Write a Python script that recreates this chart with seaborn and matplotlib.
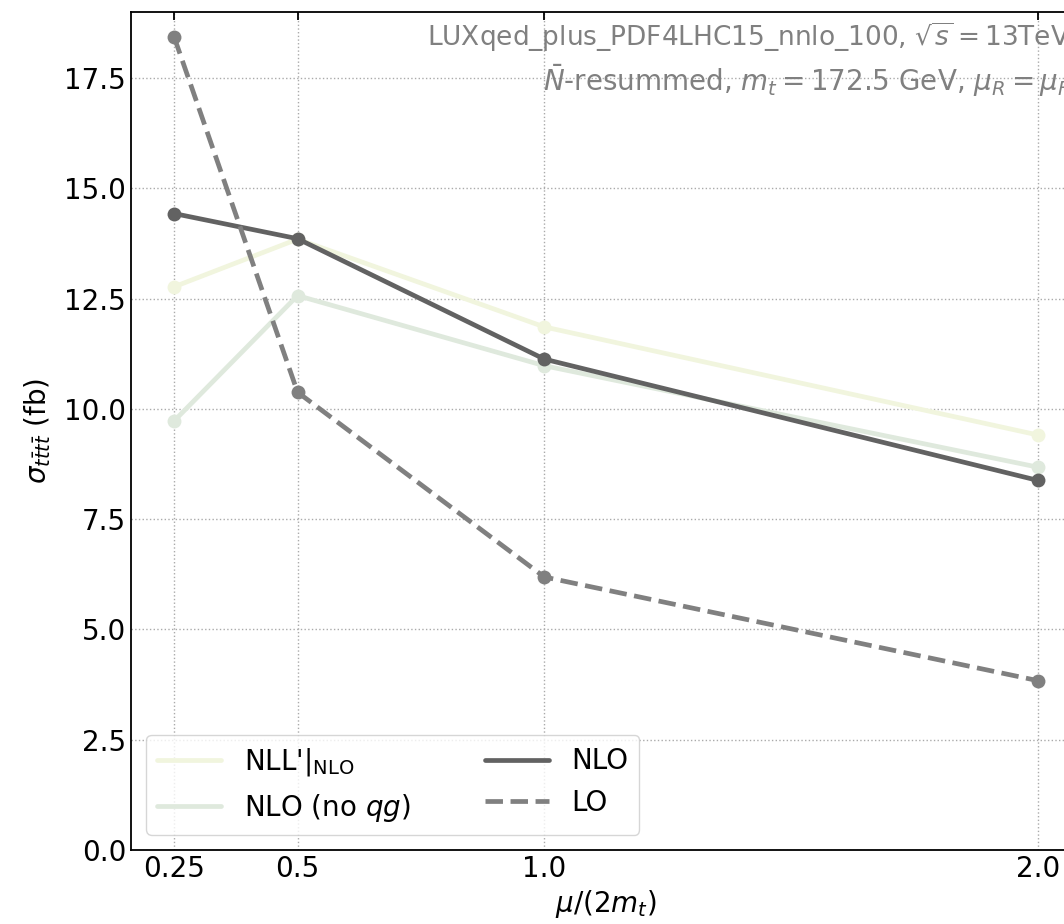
import matplotlib
matplotlib.use("Agg")
import matplotlib.pyplot as plt
from matplotlib.lines import Line2D
import seaborn as sns
import pandas as pd

# ---- data ----
scales = [0.25, 0.5, 1.0, 2.0]
nll_nlo = [12.77, 13.85, 11.86, 9.41]
nlo_noqg = [9.73, 12.57, 10.98, 8.68]
nlo = [14.43, 13.86, 11.13, 8.38]
lo = [18.43, 10.38, 6.19, 3.84]
ytick_vals = [0.0, 2.5, 5.0, 7.5, 10.0, 12.5, 15.0, 17.5]
xtick_labels = ["0.25", "0.5", "1.0", "2.0"]
series_labels = ["NLL'$|_{\\rm NLO}$", "NLO (no $qg$)", "NLO", "LO"]

sns.set_style("white")
plt.rcParams['font.family'] = ['DejaVu Sans']
plt.rcParams.update({"text.color": "black", "axes.labelcolor": "black",
                     "xtick.color": "black", "ytick.color": "black"})

fig = plt.figure(figsize=(10.64, 9.24), dpi=100)
ax = fig.add_axes([131/1064, 74/924, 950/1064, 838/924])

colors = ["#f1f5de", "#dfe9dd", "#626262", "#808080"]
styles = ["-", "-", "-", "--"]
values = [nll_nlo, nlo_noqg, nlo, lo]
for i, (lab, vals, col, ls) in enumerate(zip(series_labels, values, colors, styles)):
    df = pd.DataFrame({"x": scales, "y": vals})
    sns.lineplot(data=df, x="x", y="y", ax=ax, color=col, linestyle=ls,
                 linewidth=3.4, marker="o", markersize=10, markeredgewidth=0,
                 zorder=2 + i, legend=False)

ax.set_xlim(0.1625, 2.0875)
ax.set_ylim(0, 19.0)
ax.set_xticks(scales)
ax.set_xticklabels(xtick_labels)
ax.set_yticks(ytick_vals)
ax.tick_params(direction="in", top=True, right=True, labelsize=20, length=6, width=1.3)
ax.grid(True, linestyle=":", color="#aaaaaa", linewidth=1.0)
for sp in ax.spines.values():
    sp.set_color("black")
    sp.set_linewidth(1.3)

ax.set_xlabel("$\\mu/(2m_t)$", fontsize=20, labelpad=4)
ax.set_ylabel("$\\sigma_{t\\bar{t}t\\bar{t}}$ (fb)", fontsize=20, labelpad=8)

ax.text(0.3116, 0.970, "LUXqed_plus_PDF4LHC15_nnlo_100, $\\sqrt{s}=13$TeV",
        transform=ax.transAxes, ha="left", va="center", fontsize=19, color="#808080")
ax.text(0.4337, 0.918, "$\\bar{N}$-resummed, $m_t=172.5$ GeV, $\\mu_R=\\mu_F$",
        transform=ax.transAxes, ha="left", va="center", fontsize=20, color="#808080")

handles = [Line2D([], [], color=c, linestyle=s, linewidth=3.4) for c, s in zip(colors, styles)]
leg = ax.legend(handles, series_labels, loc="lower left", ncol=2, fontsize=20,
                frameon=True, handlelength=2.3, columnspacing=2.7, borderaxespad=0.55,
                handletextpad=0.8)
leg.get_frame().set_edgecolor("#cccccc")

fig.savefig("out.png", dpi=100)
